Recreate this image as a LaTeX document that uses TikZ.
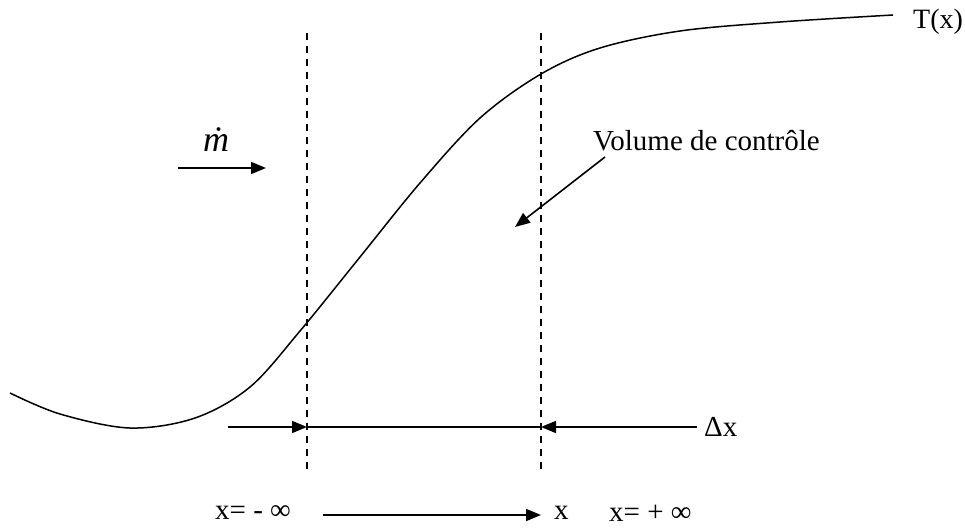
\documentclass[tikz,border=0pt]{standalone}
\usepackage{fontspec}
\setmainfont{Liberation Serif}
\usetikzlibrary{arrows.meta}
\begin{document}
\begin{tikzpicture}[x=1pt,y=-1pt,
  lbl/.style={inner sep=0pt,font=\fontsize{29}{33}\selectfont},
  sml/.style={inner sep=0pt,font=\fontsize{28}{32}\selectfont},
  arr/.style={line width=1.6pt,-{Triangle[length=15pt,width=12pt]}},
  thin/.style={line width=1.4pt},
  vdash/.style={line width=1.3pt,dash pattern=on 7pt off 6pt}]
\useasboundingbox (0,0) rectangle (965,529);
% dashed boundaries
\coordinate (l1) at (307,33); \coordinate (l2) at (307,472);
\coordinate (r1) at (541,33); \coordinate (r2) at (541,472);
\draw[vdash] (l1) -- (l2);
\draw[vdash] (r1) -- (r2);
% temperature curve
\draw[line width=1.5pt] plot[smooth,tension=0.55] coordinates {(10,393) (60,414) (130,428) (195,418) (250,387) (300,331) (360,257) (420,183) (480,118) (541,74) (600,48) (680,31) (780,22) (893,15)};
\node[sml,anchor=west] (T) at (913,22) {T(x)};
% mass flow
\node[inner sep=0pt,font=\fontsize{36}{40}\selectfont\itshape] (m) at (216,140) {\.{m}};
\coordinate (ma) at (178,168); \coordinate (mb) at (266,168);
\draw[arr] (ma) -- (mb);
% control volume
\node[lbl,anchor=west] (V) at (593,141) {Volume de contrôle};
\coordinate (va) at (605,157); \coordinate (vb) at (515,227);
\draw[arr] (va) -- (vb);
% delta x
\coordinate (dl) at (228,427); \coordinate (dL) at (307,427);
\coordinate (dR) at (541,427); \coordinate (dr) at (697,427);
\draw[arr] (dl) -- (dL);
\draw[thin] (dL) -- (dR);
\draw[arr] (dr) -- (dR);
\node[lbl,anchor=west] (dx) at (704,427) {Δx};
% bottom axis
\node[lbl,anchor=west] (xm) at (215,513) {x= - ∞};
\coordinate (xa) at (323,515); \coordinate (xb) at (541,515);
\draw[arr] (xa) -- (xb);
\node[lbl,anchor=west] (x) at (554,513) {x};
\node[lbl,anchor=west] (xp) at (609,513) {x= + ∞};
\end{tikzpicture}
\end{document}
